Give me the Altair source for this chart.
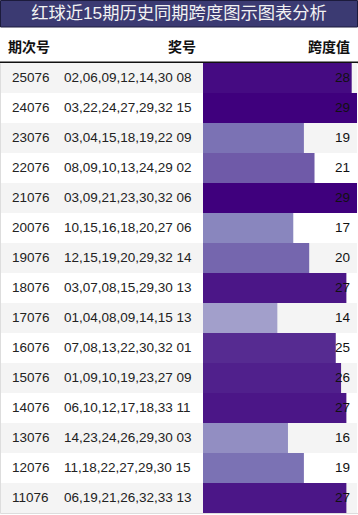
import altair as alt
import pandas as pd

periods = ["25076", "24076", "23076", "22076", "21076", "20076", "19076", "18076",
           "17076", "16076", "15076", "14076", "13076", "12076", "11076"]
numbers = ["02,06,09,12,14,30 08", "03,22,24,27,29,32 15", "03,04,15,18,19,22 09",
           "08,09,10,13,24,29 02", "03,09,21,23,30,32 06", "10,15,16,18,20,27 06",
           "12,15,19,20,29,32 14", "03,07,08,15,29,30 13", "01,04,08,09,14,15 13",
           "07,08,13,22,30,32 01", "01,09,10,19,23,27 09", "06,10,12,17,18,33 11",
           "14,23,24,26,29,30 03", "11,18,22,27,29,30 15", "06,19,21,26,32,33 13"]
spans = [28, 29, 19, 21, 29, 17, 20, 27, 14, 25, 26, 27, 16, 19, 27]

title_text = "红球近15期历史同期跨度图示图表分析"
headers = ["期次号", "奖号", "跨度值"]

purples = ["#fcfbfd", "#efedf5", "#dadaeb", "#bcbddc", "#9e9ac8",
           "#807dba", "#6a51a3", "#54278f", "#3f007d"]
span_max = 29
color_domain = [span_max * i / (len(purples) - 1) for i in range(len(purples))]

FONT = "Liberation Sans, Noto Sans CJK SC"

df = pd.DataFrame({
    "period": periods,
    "numbers": numbers,
    "span": spans,
    "bg": ["#f4f4f4" if i % 2 == 0 else "#ffffff" for i in range(len(periods))],
})

y = alt.Y("period:N", sort=None, axis=None,
          scale=alt.Scale(paddingInner=0, paddingOuter=0))

base = alt.Chart(df)

bg = base.mark_rect().encode(
    y=y,
    x=alt.value(1), x2=alt.value(357),
    fill=alt.Fill("bg:N", scale=None, legend=None),
)

bars = base.mark_rect().encode(
    y=y,
    x=alt.X("span:Q", axis=None, scale=alt.Scale(domain=[0, span_max], range=[203, 357])),
    x2=alt.datum(0),
    color=alt.Color("span:Q", legend=None,
                    scale=alt.Scale(domain=color_domain, range=purples,
                                    interpolate="rgb")),
)

txt_period = base.mark_text(align="left", baseline="middle", font=FONT, fontSize=13.5,
                            color="#222222").encode(
    y=y, x=alt.value(12), text="period:N")
txt_numbers = base.mark_text(align="left", baseline="middle", font=FONT, fontSize=13.5,
                             color="#222222").encode(
    y=y, x=alt.value(64), text="numbers:N")
txt_span = base.mark_text(align="right", baseline="middle", font=FONT, fontSize=13.5,
                          color="#111111").encode(
    y=y, x=alt.value(350), text="span:Q")

# title band
title_df = pd.DataFrame({"t": [title_text]})
title_rect = alt.Chart(title_df).mark_rect(color="#3b3a72", stroke="#1c1b3c",
                                           strokeWidth=1).encode(
    x=alt.value(0.5), x2=alt.value(357.5), y=alt.value(-62.5), y2=alt.value(-36))
title_txt = alt.Chart(title_df).mark_text(align="center", baseline="middle", font=FONT,
                                          fontSize=17.3, color="#f2f2f2").encode(
    x=alt.value(179), y=alt.value(-49), text="t:N")

hdr_df = pd.DataFrame({"h": headers})
hdr_left = alt.Chart(hdr_df.iloc[[0]]).mark_text(align="left", baseline="middle", font=FONT,
                                                 fontSize=14, fontWeight="bold",
                                                 color="#111111").encode(
    x=alt.value(8), y=alt.value(-15), text="h:N")
hdr_mid = alt.Chart(hdr_df.iloc[[1]]).mark_text(align="center", baseline="middle", font=FONT,
                                                fontSize=14, fontWeight="bold",
                                                color="#111111").encode(
    x=alt.value(182), y=alt.value(-15), text="h:N")
hdr_right = alt.Chart(hdr_df.iloc[[2]]).mark_text(align="right", baseline="middle", font=FONT,
                                                  fontSize=14, fontWeight="bold",
                                                  color="#111111").encode(
    x=alt.value(350), y=alt.value(-15), text="h:N")

hdr_line = alt.Chart(title_df).mark_rule(color="#111111", strokeWidth=1.5).encode(
    x=alt.value(0), x2=alt.value(358), y=alt.value(-0.75))

chart = alt.layer(
    bg, bars, txt_period, txt_numbers, txt_span,
    title_rect, title_txt, hdr_left, hdr_mid, hdr_right, hdr_line,
).properties(
    width=358, height=450,
    padding={"left": 0, "right": 0, "top": 63, "bottom": 2},
    autosize=alt.AutoSizeParams(type="none"),
).configure_view(stroke=None).configure(background="#ffffff")

chart.save("out.html", embed_options={"renderer": "svg", "actions": False})
